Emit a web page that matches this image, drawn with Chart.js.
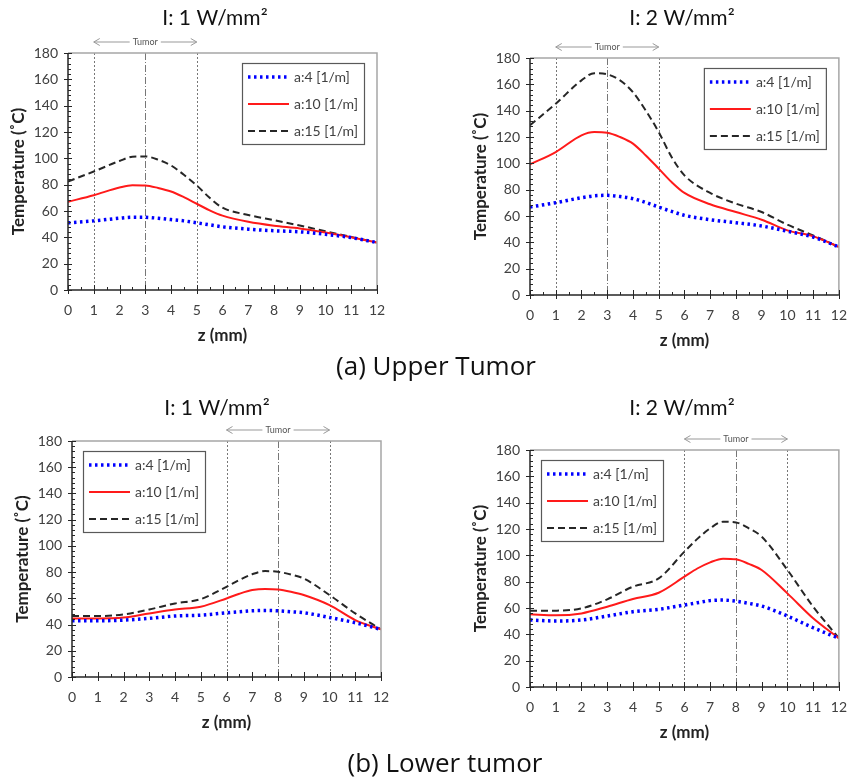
<!DOCTYPE html>
<html>
<head>
<meta charset="utf-8">
<script src="https://cdn.jsdelivr.net/npm/chart.js@4.4.1/dist/chart.umd.min.js"></script>
<style>
  body { margin: 0; background: #fff; width: 851px; height: 779px; position: relative; overflow: hidden; font-family: Lato, sans-serif; }
  canvas { position: absolute; }
  .cap { position: absolute; width: 400px; text-align: center; font-size: 26px; color: #111; font-family: "Open Sans", sans-serif; line-height: 30px; }
</style>
</head>
<body>
<canvas id="c1" width="425" height="360" style="left:0;top:0"></canvas>
<canvas id="c2" width="426" height="360" style="left:425px;top:0"></canvas>
<canvas id="c3" width="425" height="389" style="left:0;top:390px"></canvas>
<canvas id="c4" width="426" height="389" style="left:425px;top:390px"></canvas>
<div class="cap" style="left:236px;top:350px">(a) Upper Tumor</div>
<div class="cap" style="left:245px;top:747px">(b) Lower tumor</div>
<script>
// z positions (mm)
const zUpper = [0, 1, 2, 2.5, 3, 3.5, 4, 4.5, 5, 5.5, 6, 7, 8, 9, 10, 11, 12];
const zLower = [0, 1, 2, 3, 4, 5, 6, 6.5, 7, 7.5, 8, 8.5, 9, 10, 11, 12];

// upper tumor, I = 1 W/mm2
const up1_a4  = [51, 52.5, 54.5, 55.2, 55.2, 54.5, 53.5, 52.5, 51, 49.5, 48, 46.2, 45, 44.2, 42.3, 39.8, 36];
const up1_a10 = [67, 72, 77.8, 79.6, 79.4, 77.5, 74.8, 70.5, 65.5, 60.5, 56.5, 51.8, 48.8, 46.7, 43.6, 40, 36];
const up1_a15 = [82.4, 90, 98, 101.2, 101.4, 99, 94.6, 87.5, 79.4, 70, 62.5, 57, 53, 49, 44.6, 40.3, 36];

// upper tumor, I = 2 W/mm2
const up2_a4  = [66.8, 70.1, 73.9, 75.3, 75.7, 74.8, 73.2, 70.3, 66.8, 63.5, 60.5, 57.2, 54.9, 52.4, 48.4, 44, 36.5];
const up2_a10 = [99.2, 108.6, 121.3, 123.8, 123.3, 120, 115, 106, 96, 85.8, 77.5, 68.9, 63, 57.2, 49.1, 44.6, 36.5];
const up2_a15 = [128.9, 145.3, 163, 168.5, 167.6, 163, 154, 140, 123.8, 104.8, 90.9, 77.5, 69.4, 63, 53.4, 45.3, 36.5];

// lower tumor, I = 1 W/mm2
const lo1_a4  = [42.9, 42.9, 43.4, 44.7, 46.5, 47.2, 49, 49.8, 50.5, 50.7, 50.5, 49.8, 49, 45.4, 41.4, 36.3];
const lo1_a10 = [44.7, 44.7, 45.4, 48.5, 51.5, 53.6, 59.9, 63.5, 66.3, 67.2, 66.8, 65, 62.5, 54.8, 43.4, 36.3];
const lo1_a15 = [46.5, 46.5, 47.7, 51.5, 56.1, 59.4, 68.8, 74, 78.4, 80.8, 80.2, 78.2, 75.1, 62.5, 48.5, 36.3];

// lower tumor, I = 2 W/mm2
const lo2_a4  = [50.9, 50.1, 50.9, 53.9, 57.2, 59, 62.3, 64, 65.6, 66, 65.2, 63.5, 61.5, 53.9, 45, 37];
const lo2_a10 = [55.2, 54.4, 55.9, 61, 66.8, 71.6, 83.8, 90, 94.7, 97.5, 97, 93.5, 88.9, 71.1, 52.2, 37];
const lo2_a15 = [58, 58, 59.7, 66.6, 76.2, 82.5, 102.8, 112.5, 120.5, 125.5, 125, 120.5, 114.2, 88.9, 61, 37];

const seriesLabels = ['a:4 [1/m]', 'a:10 [1/m]', 'a:15 [1/m]'];
const tumorUpper = [1, 3, 5];
const tumorLower = [6, 8, 10];

const FONT = 'Lato, "Open Sans", sans-serif';
const TXT = '#404040';

function pts(xs, ys) { return xs.map((x, i) => ({ x: x, y: ys[i] })); }

// tumor lines, arrow, title, frame, minor ticks and the boxed legend
const decor = {
  id: 'decor',
  beforeDatasetsDraw(chart, args, o) {
    const { ctx, chartArea: a, scales: { x } } = chart;
    ctx.save();
    ctx.strokeStyle = '#777';
    ctx.lineWidth = 1;
    o.tumor.forEach((z, i) => {
      const px = Math.round(x.getPixelForValue(z)) + 0.5;
      ctx.setLineDash(i === 1 ? [7, 2, 1, 2] : [2, 2]);
      ctx.beginPath(); ctx.moveTo(px, a.top); ctx.lineTo(px, a.bottom); ctx.stroke();
    });
    ctx.restore();
  },
  afterDatasetsDraw(chart, args, o) {
    const { ctx, chartArea: a, scales: { x, y } } = chart;
    ctx.save();
    // frame: light top/right, dark axes
    ctx.setLineDash([]);
    ctx.strokeStyle = '#a6a6a6'; ctx.lineWidth = 1.5;
    ctx.beginPath(); ctx.moveTo(a.left, a.top); ctx.lineTo(a.right, a.top); ctx.lineTo(a.right, a.bottom); ctx.stroke();
    ctx.strokeStyle = '#262626'; ctx.lineWidth = 1.5;
    ctx.beginPath(); ctx.moveTo(a.left, a.top); ctx.lineTo(a.left, a.bottom); ctx.lineTo(a.right, a.bottom); ctx.stroke();
    // y ticks
    ctx.lineWidth = 1;
    for (let v = 0; v <= 180; v += 4) {
      const py = Math.round(y.getPixelForValue(v)) + 0.5;
      const major = v % 20 === 0;
      ctx.beginPath();
      ctx.moveTo(a.left - (major ? 4 : 0), py); ctx.lineTo(a.left + (major ? 4 : 3), py); ctx.stroke();
    }
    // x ticks
    for (let v = 0; v <= 12; v += 0.5) {
      const px = Math.round(x.getPixelForValue(v)) + 0.5;
      const major = v % 1 === 0;
      ctx.beginPath(); ctx.moveTo(px, a.bottom + (major ? 4 : 0)); ctx.lineTo(px, a.bottom - (major ? 5 : 3)); ctx.stroke();
    }
    // tumor arrow
    const x1 = x.getPixelForValue(o.tumor[0]), x2 = x.getPixelForValue(o.tumor[2]);
    const ty = a.top - 11, mid = (x1 + x2) / 2;
    ctx.font = '9px ' + FONT; ctx.fillStyle = '#555'; ctx.textAlign = 'center'; ctx.textBaseline = 'middle';
    ctx.fillText('Tumor', mid, ty);
    const hw = ctx.measureText('Tumor').width / 2 + 3;
    ctx.strokeStyle = '#999'; ctx.lineWidth = 1;
    ctx.beginPath();
    ctx.moveTo(x1, ty); ctx.lineTo(mid - hw, ty);
    ctx.moveTo(mid + hw, ty); ctx.lineTo(x2, ty);
    ctx.moveTo(x1 + 6, ty - 3.5); ctx.lineTo(x1, ty); ctx.lineTo(x1 + 6, ty + 3.5);
    ctx.moveTo(x2 - 6, ty - 3.5); ctx.lineTo(x2, ty); ctx.lineTo(x2 - 6, ty + 3.5);
    ctx.stroke();
    // panel title
    ctx.fillStyle = '#111'; ctx.font = '21px ' + FONT;
    ctx.fillText(o.title, o.titleX, o.titleY);
    // legend box
    const bw = 122, bh = 81;
    const bx = o.legendRight ? a.right - 13 - bw : a.left + 11;
    const by = a.top + 10;
    ctx.fillStyle = '#fff'; ctx.fillRect(bx, by, bw, bh);
    ctx.strokeStyle = '#595959'; ctx.lineWidth = 1.2;
    ctx.strokeRect(bx + 0.5, by + 0.5, bw, bh);
    chart.data.datasets.forEach((ds, i) => {
      const ry = by + 14 + i * 27;
      ctx.strokeStyle = ds.borderColor; ctx.lineWidth = ds.borderWidth;
      ctx.setLineDash(ds.borderDash || []);
      ctx.beginPath(); ctx.moveTo(bx + 6, ry); ctx.lineTo(bx + 47, ry); ctx.stroke();
      ctx.setLineDash([]);
      ctx.fillStyle = TXT; ctx.font = '14px ' + FONT; ctx.textAlign = 'left';
      ctx.fillText(ds.label, bx + 52, ry);
    });
    ctx.restore();
  }
};

function makePanel(id, zs, s4, s10, s15, pad, plug) {
  return new Chart(document.getElementById(id), {
    type: 'line',
    data: {
      datasets: [
        { label: seriesLabels[0], data: pts(zs, s4), borderColor: '#0000ff', borderWidth: 3.5, borderDash: [2.5, 3.5] },
        { label: seriesLabels[1], data: pts(zs, s10), borderColor: '#ff1a1a', borderWidth: 2 },
        { label: seriesLabels[2], data: pts(zs, s15), borderColor: '#262626', borderWidth: 2, borderDash: [7, 4] }
      ]
    },
    options: {
      responsive: false,
      animation: false,
      layout: { padding: pad },
      elements: { point: { radius: 0 }, line: { cubicInterpolationMode: 'monotone', fill: false } },
      plugins: { legend: { display: false }, tooltip: { enabled: false }, decor: plug },
      scales: {
        x: {
          type: 'linear', min: 0, max: 12,
          border: { display: false },
          grid: { display: false, drawTicks: true, tickLength: 8 },
          ticks: { stepSize: 1, padding: 4, color: TXT, font: { family: FONT, size: 14 } },
          title: { display: true, text: 'z (mm)', color: '#222', font: { family: FONT, size: 17, weight: 'bold' } },
          afterFit(s) { s.height = 60; }
        },
        y: {
          min: 0, max: 180,
          border: { display: false },
          grid: { display: false, drawTicks: true, tickLength: 6 },
          ticks: { stepSize: 20, padding: 4, color: TXT, font: { family: FONT, size: 14 } },
          title: { display: true, text: 'Temperature (˚C)', color: '#222', font: { family: FONT, size: 17, weight: 'bold' } },
          afterFit(s) { s.width = 64; }
        }
      }
    },
    plugins: [decor]
  });
}

makePanel('c1', zUpper, up1_a4, up1_a10, up1_a15,
  { left: 4, top: 53, right: 48, bottom: 10 },
  { tumor: tumorUpper, title: 'I: 1 W/mm²', titleX: 215, titleY: 18, legendRight: true });
makePanel('c2', zUpper, up2_a4, up2_a10, up2_a15,
  { left: 41, top: 58, right: 12, bottom: 5 },
  { tumor: tumorUpper, title: 'I: 2 W/mm²', titleX: 257, titleY: 18, legendRight: true });
makePanel('c3', zLower, lo1_a4, lo1_a10, lo1_a15,
  { left: 8, top: 51, right: 44, bottom: 42 },
  { tumor: tumorLower, title: 'I: 1 W/mm²', titleX: 217, titleY: 18, legendRight: false });
makePanel('c4', zLower, lo2_a4, lo2_a10, lo2_a15,
  { left: 41, top: 60, right: 11, bottom: 32 },
  { tumor: tumorLower, title: 'I: 2 W/mm²', titleX: 257, titleY: 18, legendRight: false });
</script>
</body>
</html>
